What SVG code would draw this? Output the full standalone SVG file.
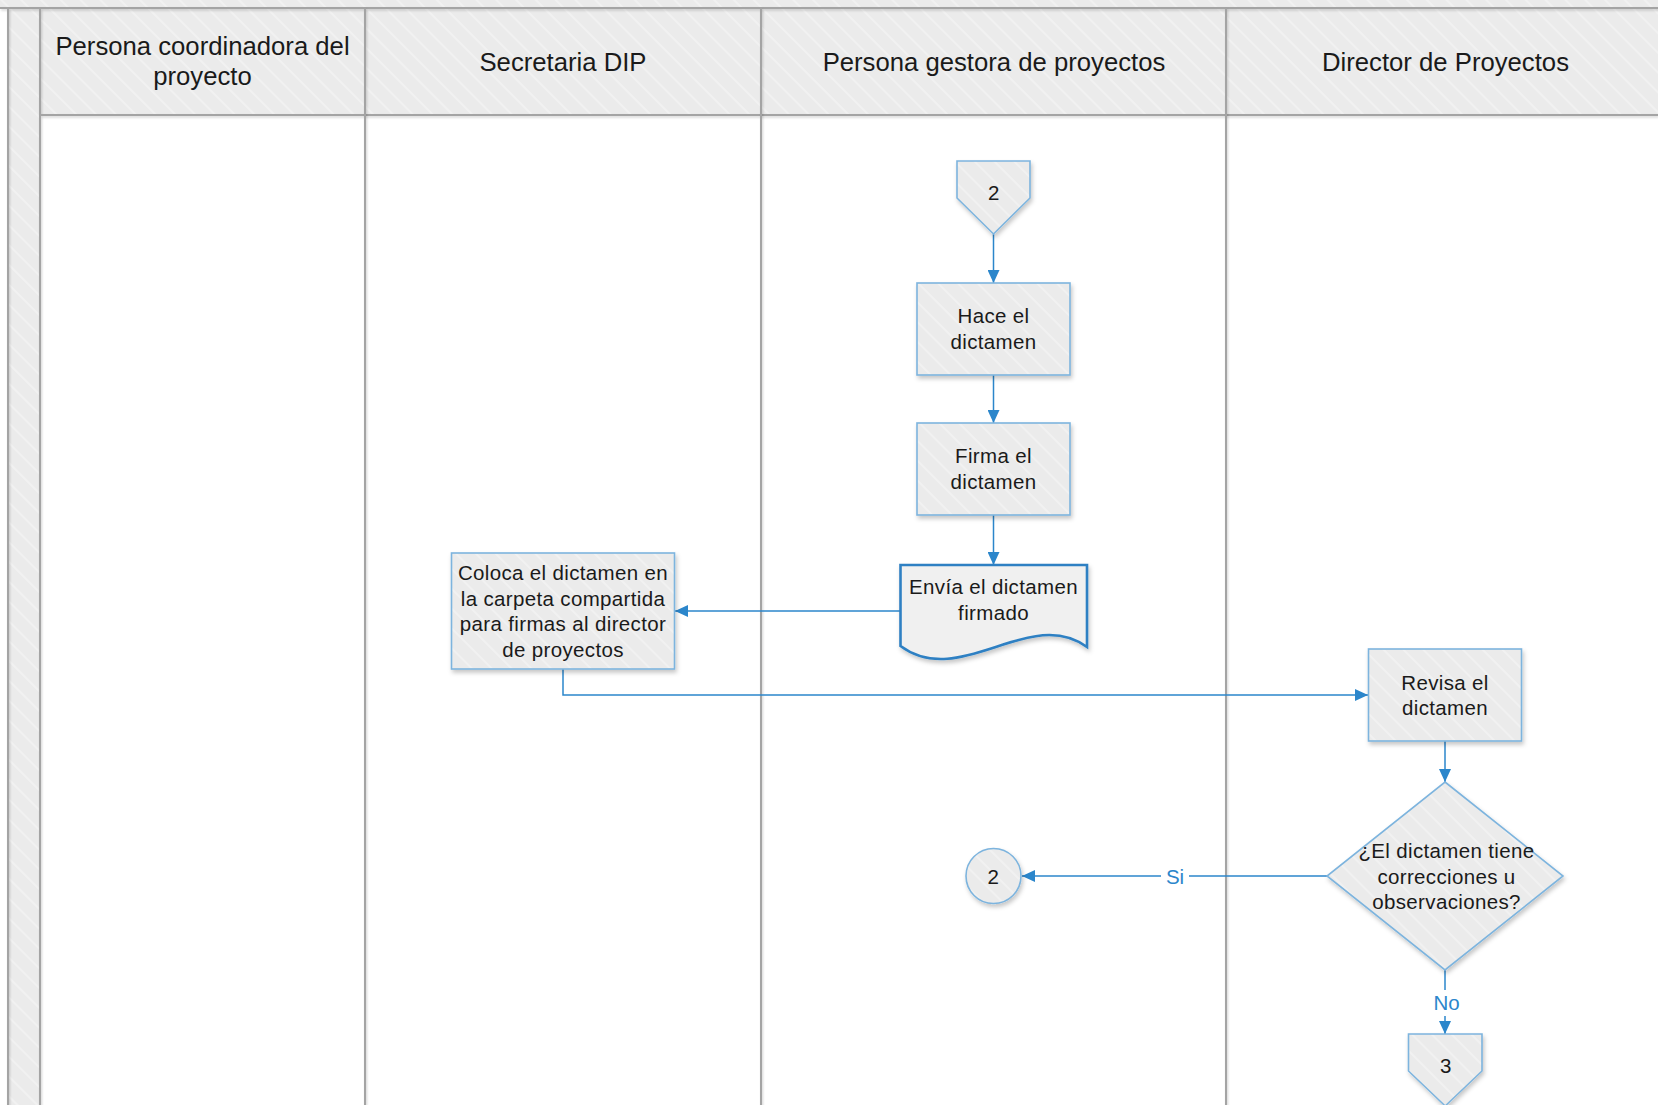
<svg xmlns="http://www.w3.org/2000/svg" width="1658" height="1105" viewBox="0 0 1658 1105">
  <defs>
    <!-- subtle diagonal hatching used for headers and shapes -->
    <pattern id="hatch" patternUnits="userSpaceOnUse" width="14" height="14" patternTransform="rotate(-45)">
      <rect width="14" height="14" fill="#EBEBEB"/>
      <rect x="0" y="0" width="2" height="14" fill="#F1F1F1"/>
    </pattern>
    <filter id="shadow" x="-20%" y="-20%" width="140%" height="150%">
      <feDropShadow dx="1.5" dy="3" stdDeviation="2" flood-color="#000" flood-opacity="0.22"/>
    </filter>
    <filter id="lineshadow" filterUnits="userSpaceOnUse" x="0" y="0" width="1658" height="1105">
      <feDropShadow dx="1" dy="1.5" stdDeviation="1" flood-color="#000" flood-opacity="0.18"/>
    </filter>
    <marker id="arrow" markerUnits="userSpaceOnUse" markerWidth="14" markerHeight="12" refX="13" refY="6" orient="auto">
      <path d="M0,0 L13,6 L0,12 Z" fill="#2B86CB"/>
    </marker>
    <style>
      .lane { stroke: #A4A4A4; stroke-width: 2; fill: none; }
      .hdr { font-family: "Liberation Sans", Arial, sans-serif; font-size: 25.7px; fill: #1A1A1A; text-anchor: middle; }
      .txt { font-family: "Liberation Sans", Arial, sans-serif; font-size: 20.5px; letter-spacing: 0.35px; fill: #1A1A1A; text-anchor: middle; }
      .lbl { font-family: "Liberation Sans", Arial, sans-serif; font-size: 20.5px; fill: #2B86CB; text-anchor: middle; }
      .shape { fill: url(#hatch); stroke: #7DB4DE; stroke-width: 1.6; filter: url(#shadow); }
      .doc { fill: #F0F0F0; stroke: #2E80C3; stroke-width: 2.6; filter: url(#shadow); }
      .conn { stroke: #2B86CB; stroke-width: 1.5; fill: none; }
    </style>
  </defs>

  <!-- pool frame -->
  <g id="pool">
    <rect x="0" y="0" width="1658" height="1105" fill="#FFFFFF"/>
    <rect x="0" y="0" width="1658" height="8" fill="url(#hatch)"/>
    <rect x="8" y="8" width="32" height="1097" fill="url(#hatch)"/>
    <rect x="40" y="8" width="1625" height="107" fill="url(#hatch)"/>
    <g filter="url(#lineshadow)">
      <line x1="0" y1="8" x2="1658" y2="8" class="lane"/>
      <line x1="40" y1="115" x2="1658" y2="115" class="lane"/>
      <line x1="8" y1="8" x2="8" y2="1105" class="lane"/>
      <line x1="40" y1="8" x2="40" y2="1105" class="lane"/>
    </g>
  </g>

  <!-- swimlanes -->
  <g id="lane-coordinadora">
    <line x1="365" y1="8" x2="365" y2="1105" class="lane" filter="url(#lineshadow)"/>
    <text class="hdr" x="202.5" y="55">Persona coordinadora del</text>
    <text class="hdr" x="202.5" y="84.5">proyecto</text>
  </g>
  <g id="lane-secretaria">
    <line x1="761" y1="8" x2="761" y2="1105" class="lane" filter="url(#lineshadow)"/>
    <text class="hdr" x="563" y="70.5">Secretaria DIP</text>
  </g>
  <g id="lane-gestora">
    <line x1="1226" y1="8" x2="1226" y2="1105" class="lane" filter="url(#lineshadow)"/>
    <text class="hdr" x="994" y="70.5">Persona gestora de proyectos</text>
  </g>
  <g id="lane-director">
    <text class="hdr" x="1445.5" y="70.5">Director de Proyectos</text>
  </g>

  <!-- connectors -->
  <g id="connectors">
    <path class="conn" d="M993.5,234 V283" marker-end="url(#arrow)"/>
    <path class="conn" d="M993.5,375 V423" marker-end="url(#arrow)"/>
    <path class="conn" d="M993.5,515 V565" marker-end="url(#arrow)"/>
    <path class="conn" d="M900,611 H675" marker-end="url(#arrow)"/>
    <path class="conn" d="M563,669 V695 H1368" marker-end="url(#arrow)"/>
    <path class="conn" d="M1445,741 V782" marker-end="url(#arrow)"/>
    <path class="conn" d="M1327,876 H1022" marker-end="url(#arrow)"/>
    <path class="conn" d="M1445,970 V1034" marker-end="url(#arrow)"/>
    <rect x="1161" y="862" width="28" height="28" fill="#FFFFFF"/>
    <text class="lbl" x="1175" y="883.5">Si</text>
    <rect x="1430" y="990" width="33" height="26" fill="#FFFFFF"/>
    <text class="lbl" x="1446.5" y="1010">No</text>
  </g>

  <!-- nodes -->
  <g id="offpage-2">
    <path class="shape" d="M957,161 H1030 V198 L993.5,234 L957,198 Z"/>
    <text class="txt" x="994" y="199.5">2</text>
  </g>
  <g id="hace-dictamen">
    <rect class="shape" x="917" y="283" width="153" height="92"/>
    <text class="txt" x="993.5" y="323.3">Hace el</text>
    <text class="txt" x="993.5" y="349">dictamen</text>
  </g>
  <g id="firma-dictamen">
    <rect class="shape" x="917" y="423" width="153" height="92"/>
    <text class="txt" x="993.5" y="463.3">Firma el</text>
    <text class="txt" x="993.5" y="489">dictamen</text>
  </g>
  <g id="envia-dictamen">
    <path class="doc" d="M900.5,565 H1087 V647 C1030,605 960,690 900.5,646 Z"/>
    <text class="txt" x="993.5" y="594.3">Envía el dictamen</text>
    <text class="txt" x="993.5" y="620">firmado</text>
  </g>
  <g id="coloca-dictamen">
    <rect class="shape" x="451.5" y="553" width="223" height="116"/>
    <text class="txt" x="563" y="579.8">Coloca el dictamen en</text>
    <text class="txt" x="563" y="605.5">la carpeta compartida</text>
    <text class="txt" x="563" y="631.2">para firmas al director</text>
    <text class="txt" x="563" y="656.9">de proyectos</text>
  </g>
  <g id="revisa-dictamen">
    <rect class="shape" x="1368.5" y="649" width="153" height="92"/>
    <text class="txt" x="1445" y="689.5">Revisa el</text>
    <text class="txt" x="1445" y="715">dictamen</text>
  </g>
  <g id="decision-correcciones">
    <path class="shape" d="M1445,782 L1563,876 L1445,970 L1327,876 Z"/>
    <text class="txt" x="1446.5" y="858.3">¿El dictamen tiene</text>
    <text class="txt" x="1446.5" y="883.5">correcciones u</text>
    <text class="txt" x="1446.5" y="908.5">observaciones?</text>
  </g>
  <g id="connector-2">
    <circle class="shape" cx="993.5" cy="876" r="27.5"/>
    <text class="txt" x="993.5" y="883.5">2</text>
  </g>
  <g id="offpage-3">
    <path class="shape" d="M1408.5,1034 H1482 V1071 L1445.2,1106 L1408.5,1071 Z"/>
    <text class="txt" x="1446" y="1073.3">3</text>
  </g>
</svg>
